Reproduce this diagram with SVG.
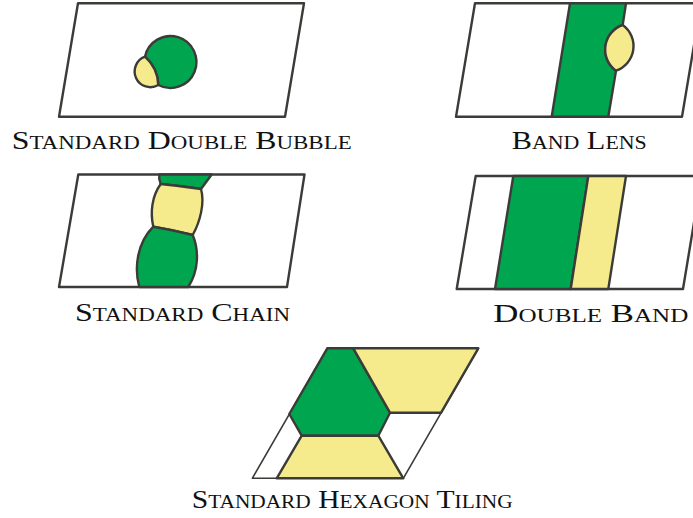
<svg xmlns="http://www.w3.org/2000/svg" width="693" height="518" viewBox="0 0 693 518">
<style>
.frame{fill:#fff;stroke:#3b3b38;stroke-width:2.4;stroke-linejoin:round}
.thin{fill:#fff;stroke:#3b3b38;stroke-width:1.6;stroke-linejoin:round}
.g{fill:#00a64f;stroke:#3b3b38;stroke-width:2.4;stroke-linejoin:round}
.y{fill:#f5ea8c;stroke:#3b3b38;stroke-width:2.4;stroke-linejoin:round}
.lbl{font-family:"Liberation Serif","Times New Roman",serif;font-variant:small-caps;font-size:25px;fill:#111}
</style>
<rect width="693" height="518" fill="#fff"/>
<g id="double-bubble">
<polygon class="frame" points="78,3.3 304,3.3 285,116.7 59,116.7"/>
<path class="g" d="M145,56.7 A26 26 0 1 1 158.3,85 A40 40 0 0 0 145,56.7 Z"/>
<path class="y" d="M145,56.7 A15.7 15.7 0 1 0 158.3,85 A40 40 0 0 0 145,56.7 Z"/>
<text class="lbl" x="11.7" y="149" textLength="340" lengthAdjust="spacingAndGlyphs">Standard Double Bubble</text>
</g>
<g id="band-lens">
<polygon class="frame" points="475,3.3 701,3.3 682,116.7 456,116.7"/>
<path class="g" d="M570,3.3 L626,3.3 L622.7,25 A26 26 0 0 0 616,70.7 L608.3,116.7 L551.7,116.7 Z"/>
<path class="y" d="M622.7,25 A26 26 0 0 0 616,70.7 A26 26 0 0 0 622.7,25 Z"/>
<text class="lbl" x="511.7" y="149" textLength="135" lengthAdjust="spacingAndGlyphs">Band Lens</text>
</g>
<g id="standard-chain">
<polygon class="frame" points="78.3,174.5 304.5,174.5 287,287 59,287"/>
<path class="g" d="M159.3,174.5 L211.7,174.5 L201,189 Q181,186 160.7,184 Q158.5,179 159.3,174.5 Z"/>
<path class="y" d="M160.7,184 Q181,186 201,189 C205,203 200,222 192.7,235 Q173,230 153.3,226.7 C150,212 152,196 160.7,184 Z"/>
<path class="g" d="M153.3,226.7 Q173,230 192.7,235 C199,250 199,270 188.3,287 L139.3,287 C134,268 137,243 153.3,226.7 Z"/>
<text class="lbl" x="75" y="321" textLength="215" lengthAdjust="spacingAndGlyphs">Standard Chain</text>
</g>
<g id="double-band">
<polygon class="frame" points="475.7,176 701.7,176 683,289 456.7,289"/>
<polygon class="g" points="513.3,176 588.3,176 570.7,289 495,289"/>
<polygon class="y" points="588.3,176 626,176 608.3,289 570.7,289"/>
<text class="lbl" x="493.3" y="321.5" textLength="195" lengthAdjust="spacingAndGlyphs">Double Band</text>
</g>
<g id="hexagon-tiling">
<polygon class="thin" points="327.3,348.3 478.3,348.3 403.3,478.3 252.3,478.3"/>
<polygon class="g" points="327.3,348.3 353.3,348.3 390,412.7 378.3,435.7 301.7,435.7 289.3,414"/>
<polygon class="y" points="353.3,348.3 478.3,348.3 441.1,412.7 390,412.7"/>
<polygon class="y" points="301.7,435.7 378.3,435.7 403.3,478.3 276.7,478.3"/>
<text class="lbl" x="191.7" y="508.3" textLength="321" lengthAdjust="spacingAndGlyphs">Standard Hexagon Tiling</text>
</g>
</svg>
